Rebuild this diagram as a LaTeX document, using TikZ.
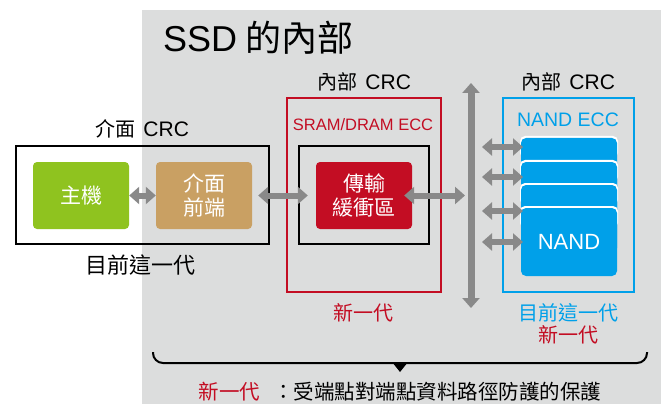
\documentclass[tikz,border=0pt]{standalone}
\usepackage{fontspec}
\setmainfont{Noto Sans CJK TC}
\newfontfamily\lat{Liberation Sans}
\usetikzlibrary{arrows.meta}

\definecolor{ssdgray}{HTML}{DCDDDD}
\definecolor{hostgreen}{HTML}{8FC31F}
\definecolor{fronttan}{HTML}{C9A063}
\definecolor{crcred}{HTML}{C30D23}
\definecolor{nandblue}{HTML}{00A0E9}
\definecolor{pipegray}{HTML}{898989}

\tikzset{
  block/.style={rounded corners=4pt, minimum width=96pt, minimum height=67pt,
    inner sep=0pt, text=white, align=center, font=\fontsize{21}{24}\selectfont},
  chip/.style={rounded corners=5pt, fill=nandblue, minimum width=96pt,
    minimum height=68pt, inner sep=0pt, text=white, font=\lat\fontsize{22}{24}\selectfont},
  label/.style={inner sep=0pt, font=\fontsize{20}{24}\selectfont},
  dataflow/.style={draw=pipegray, line width=6pt,
    {Triangle[width=17pt,length=10pt]}-{Triangle[width=17pt,length=10pt]}}
}
\newcommand{\crc}{\hspace{4pt}{\lat\fontsize{21}{24}\selectfont CRC}}

\begin{document}
\begin{tikzpicture}[x=1pt, y=-1pt]
        \useasboundingbox (0,0) rectangle (665,404);

        % Grey area for the inside of the SSD
        \fill[ssdgray] (142,10) rectangle (661,404);
        \node[anchor=base west, inner sep=0pt, font=\fontsize{36}{40}\selectfont] (title) at (163,52) {{\lat SSD} 的內部};

        % Host side and interface CRC frame
        \node[draw, line width=2pt, minimum width=253pt, minimum height=98pt] (ifframe) at (142.5,195) {};
        \node[label] (iflabel) at (142,129) {介面 \crc};
        \node[label, font=\fontsize{22}{24}\selectfont] (ifgen) at (140,265) {目前這一代};
        \node[block, fill=hostgreen] (host) at (81,195.5) {主機};
        \node[block, fill=fronttan] (front) at (204,195.5) {介面\\前端};

        % Buffer with the SRAM/DRAM ECC frame
        \node[draw=crcred, line width=1.5pt, minimum width=154pt, minimum height=194pt] (ramframe) at (364,195) {};
        \node[draw, line width=2pt, minimum width=130pt, minimum height=98pt] (bufframe) at (364,195) {};
        \node[label] (ramlabel) at (364,82) {內部 \crc};
        \node[label, text=crcred, font=\lat\fontsize{16.5}{20}\selectfont] (ramecc) at (363,125) {SRAM/DRAM ECC};
        \node[label, text=crcred] (ramgen) at (363,313) {新一代};
        \node[block, fill=crcred] (buf) at (364,195.5) {傳輸\\緩衝區};

        % NAND side
        \node[draw=nandblue, line width=1.5pt, minimum width=131pt, minimum height=194pt] (nandframe) at (568.5,195) {};
        \node[label] (nandlabel) at (568,82) {內部 \crc};
        \node[label, text=nandblue, font=\lat\fontsize{19.5}{22}\selectfont] (nandecc) at (568,120) {NAND ECC};
        \node[label, text=nandblue] (nandgen) at (568,313) {目前這一代};
        \node[label, text=crcred] (nandnew) at (568,335) {新一代};
        \foreach \i/\top/\txt in {1/138/,2/162/,3/185/,4/208/NAND} {
            \fill[white, rounded corners=5pt] (520,\top-2) rectangle (618,\top+20);
            \node[chip] (nand\i) at (569,\top+34) {\txt};
        }

        % Internal bus
        \coordinate (bustop) at (471,83);
        \coordinate (busbot) at (471,308);
        \draw[dataflow, line width=7pt] (bustop) -- (busbot);

        % Data paths
        \draw[dataflow] (host) -- (front);
        \draw[dataflow, shorten <=6pt, shorten >=8pt] (front) -- (buf);
        \draw[dataflow, shorten <=-8pt, shorten >=6pt] (buf.east) -- (bustop |- buf.east);
        \foreach \i/\y in {1/147,2/177,3/211,4/242} {
            \coordinate (port\i) at (523,\y);
            \draw[dataflow, shorten <=11pt] (bustop |- port\i) -- (port\i);
        }

        % Brace over the whole path
        \draw[line width=2pt, rounded corners=10pt] (153,352) -- (153,363) -- (647,363) -- (647,352);
        \fill (392,362) -- (408,362) -- (400,372) -- cycle;
        \node[label, font=\fontsize{20.5}{24}\selectfont] (note) at (400,392)
            {\textcolor{crcred}{新一代}\hspace{13pt}：受端點對端點資料路徑防護的保護};
    \end{tikzpicture}
\end{document}
